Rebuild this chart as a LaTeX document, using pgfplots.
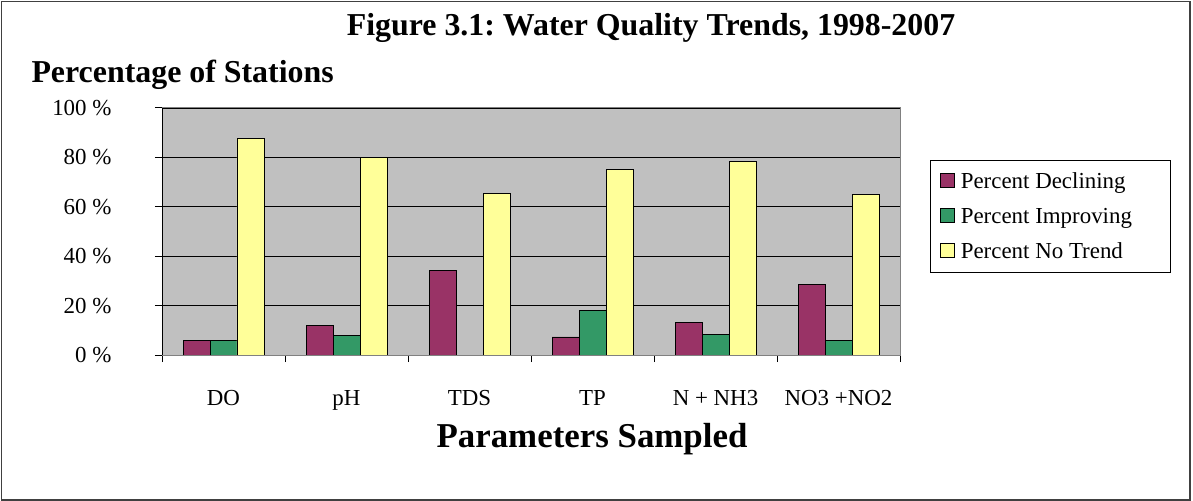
\documentclass[border=0pt]{standalone}
\usepackage{pgfplots}
\pgfplotsset{compat=1.18}
\usepackage{fontspec}
\setmainfont{Liberation Serif}
\frenchspacing
\definecolor{bgc}{HTML}{C0C0C0}
\definecolor{dec}{HTML}{993366}
\definecolor{imp}{HTML}{339966}
\definecolor{notr}{HTML}{FFFF99}
\begin{document}
\begin{tikzpicture}
\useasboundingbox (0bp,0bp) rectangle (1193bp,501bp);
\draw[line width=1.2bp, black!75] (1.5bp,1bp) rectangle (1190bp,499.5bp);
\node[font=\bfseries\fontsize{32}{36}\selectfont] at (651bp,473bp) {Figure 3.1: Water Quality Trends, 1998-2007};
\node[anchor=west,font=\bfseries\fontsize{32}{36}\selectfont] at (28bp,426bp) {Percentage of Stations};
\begin{axis}[
  at={(162bp,146bp)}, anchor=south west,
  scale only axis, width=738bp, height=247bp,
  ymin=0, ymax=100, xmin=-0.5, xmax=5.5,
  axis background/.style={fill=bgc},
  axis line style={draw=black!50, line width=1bp},
  ybar=0pt, bar width=0.2195,
  ytick={0,20,40,60,80,100},
  yticklabels={0 \%,20 \%,40 \%,60 \%,80 \%,100 \%},
  xtick={0,...,5},
  xticklabels={DO,pH,TDS,TP,N + NH3,NO3 +NO2},
  minor xtick={-0.5,0.5,...,5.5},
  tick pos=left,
  major x tick style={draw=none},
  minor x tick style={black, line width=1bp},
  y tick style={black, line width=1bp},
  tick align=outside,
  major tick length=7bp, minor tick length=7bp,
  ymajorgrids, grid style={black, line width=0.9bp},
  tick label style={font=\fontsize{23}{27}\selectfont},
  xticklabel style={anchor=base, yshift=-43bp},
  yticklabel style={xshift=-40bp},
  xlabel={Parameters Sampled},
  xlabel style={font=\bfseries\fontsize{35}{39}\selectfont, at={(axis description cs:0.5,0)}, anchor=center, yshift=-84bp, xshift=61bp},
  legend style={at={(rel axis cs:1.0407,0.789)}, anchor=north west, draw=black, line width=0.8bp, fill=white,
     font=\fontsize{23}{27}\selectfont, row sep=14bp, inner xsep=10bp, inner ysep=10bp},
  legend cell align=left,
  legend image code/.code={\draw[#1,draw=black,line width=0.8bp] (0bp,-6bp) rectangle (14bp,8bp); \path[draw=none,fill=none] (0bp,0bp) -- (18bp,0bp);},
]
\addplot[fill=dec, draw=black, line width=0.9bp] coordinates {(0,6) (1,12) (2,34.2) (3,7.3) (4,13.2) (5,28.6)};
\addplot[fill=imp, draw=black, line width=0.9bp] coordinates {(0,6) (1,8) (2,0) (3,18.1) (4,8.4) (5,5.9)};
\addplot[fill=notr, draw=black, line width=0.9bp] coordinates {(0,87.7) (1,80) (2,65.4) (3,75) (4,78.2) (5,65)};
\legend{\makebox[198bp][l]{Percent Declining},\makebox[198bp][l]{Percent Improving},\makebox[198bp][l]{Percent No Trend}}
\draw[black, line width=1bp] (rel axis cs:0,1) -- (rel axis cs:0,0) -- (rel axis cs:1,0);
\end{axis}
\end{tikzpicture}
\end{document}
